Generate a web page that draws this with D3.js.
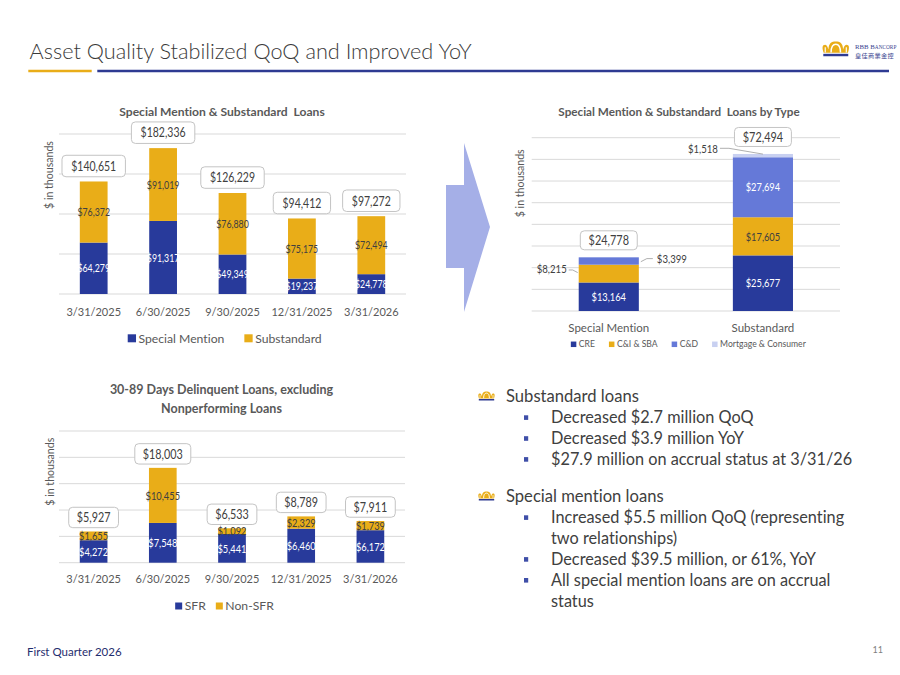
<!DOCTYPE html>
<html>
<head>
<meta charset="utf-8">
<script src="https://cdn.jsdelivr.net/npm/d3@7"></script>
<style>
  html, body { margin: 0; padding: 0; background: #fff; }
  svg { display: block; font-family: Lato, "Noto Sans", sans-serif; }
  svg text { font-variant-ligatures: none; }
</style>
</head>
<body>
<svg width="900" height="675"></svg>
<script>
// quarter-end dates shared by the two left charts
const quarters = ["3/31/2025", "6/30/2025", "9/30/2025", "12/31/2025", "3/31/2026"];

// Special Mention & Substandard Loans ($ in thousands)
const specialMention = [64279, 91317, 49349, 19237, 24778];
const substandard = [76372, 91019, 76880, 75175, 72494];
const loanTicks = [0, 50000, 100000, 150000, 200000];

// Special Mention & Substandard Loans by Type, 3/31/2026
const typeCats = ["Special Mention", "Substandard"];
const cre = [13164, 25677];
const ciSba = [8215, 17605];
const cd = [3399, 27694];
const mortgage = [0, 1518];
const typeTicks = [0, 10000, 20000, 30000, 40000, 50000, 60000, 70000, 80000];

// 30-89 days delinquent loans, excluding nonperforming
const sfr = [4272, 7548, 5441, 6460, 6172];
const nonSfr = [1655, 10455, 1092, 2329, 1739];
const delinqTicks = [0, 5000, 10000, 15000, 20000, 25000];

const navy = "#283a9b", gold = "#e9ad18", periwinkle = "#6579d8", pale = "#c8d0f1";
const textGrey = "#595959", darkText = "#404040";
const fmt = d => "$" + d3.format(",")(d);
const LABEL_SY = 1.27; // data labels in the source use a condensed face

const svg = d3.select("svg");
const g = svg.append("g");

// ---------- header ----------
g.append("text").attr("x", 29.5).attr("y", 59.3)
  .attr("font-size", 21.7).attr("font-weight", 300).attr("fill", "#3a3a3a")
  .text("Asset Quality Stabilized QoQ and Improved YoY");
g.append("line").attr("x1", 28.3).attr("x2", 91.7).attr("y1", 71).attr("y2", 71)
  .attr("stroke", gold).attr("stroke-width", 2.4);
g.append("line").attr("x1", 97.3).attr("x2", 889).attr("y1", 71).attr("y2", 71)
  .attr("stroke", "#2e3a92").attr("stroke-width", 2.4);

function crown(parent, tx, ty, s) {
  const c = parent.append("g").attr("transform", `translate(${tx},${ty}) scale(${s})`);
  c.append("path")
    .attr("d", "M1,7 C0,4 0,2 2,2 C3,2 3.5,3.5 4,5 C4,1 6,0 8.5,0 C11,0 13,1 13,5 C13.5,3.5 14,2 15,2 C17,2 17,4 16,7 Z")
    .attr("fill", gold);
  c.append("path").attr("d", "M5.6,6.8 C5.6,3.2 6.8,1.7 8.5,1.7 C10.2,1.7 11.4,3.2 11.4,6.8")
    .attr("fill", "none").attr("stroke", "#fff").attr("stroke-width", 0.9);
  c.append("path").attr("d", "M2,6.8 L2,3.5 M15,6.8 L15,3.5")
    .attr("fill", "none").attr("stroke", "#fff").attr("stroke-width", 0.7);
  c.append("rect").attr("x", 0.8).attr("y", 7.6).attr("width", 15.4).attr("height", 1.5).attr("fill", "#2e3a92");
}

// logo
crown(g, 822, 41.5, 1.62);
const logoText = g.append("text").attr("x", 855).attr("y", 49.3).attr("fill", "#3b4590")
  .attr("font-family", "Liberation Serif, serif");
logoText.append("tspan").attr("font-size", 6.8).text("RBB B");
logoText.append("tspan").attr("font-size", 5.3).text("ANCORP");
g.append("text").attr("x", 855).attr("y", 58).attr("font-size", 6.2).attr("fill", "#3b4590")
  .attr("font-family", "Noto Sans CJK TC").attr("letter-spacing", 0.3).text("皇佳商業金控");

// stretched label text, mimicking the condensed data-label face
function label(sel, cx, cy) {
  return sel.attr("transform", `translate(${cx},${cy}) scale(1,${LABEL_SY})`).attr("dy", "0.36em");
}

// ---------- stacked bar helper ----------
function stackedBars(cfg) {
  const x = d3.scaleBand().domain(cfg.cats).range([cfg.left, cfg.right])
    .paddingInner(cfg.pi).paddingOuter(cfg.po);
  const y = d3.scaleLinear().domain([0, cfg.max]).range([cfg.base, cfg.top]);
  const c = g.append("g");

  c.append("g").selectAll("line").data(cfg.ticks).join("line")
    .attr("x1", cfg.left).attr("x2", cfg.right)
    .attr("y1", d => y(d)).attr("y2", d => y(d))
    .attr("stroke", "#d9d9d9").attr("stroke-width", 1);

  const layers = d3.stack().keys(d3.range(cfg.series.length))
    .value((i, k) => cfg.series[k].values[i])(d3.range(cfg.cats.length));

  layers.forEach((layer, k) => {
    const s = cfg.series[k];
    c.append("g").selectAll("rect").data(layer).join("rect")
      .attr("x", (d, i) => x(cfg.cats[i]))
      .attr("width", x.bandwidth())
      .attr("y", d => y(d[1]))
      .attr("height", d => y(d[0]) - y(d[1]))
      .attr("fill", s.color);
    const segs = layer.map((d, i) => ({ d, i })).filter(o => s.values[o.i] > 0 &&
      !(cfg.outside || []).some(p => p.k === k && p.i === o.i));
    segs.forEach(o => {
      label(c.append("text"), x(cfg.cats[o.i]) + x.bandwidth() / 2, y((o.d[0] + o.d[1]) / 2))
        .attr("text-anchor", "middle").attr("font-size", cfg.segFont)
        .attr("fill", s.labelColor).text(fmt(s.values[o.i]));
    });
  });

  // total call-out boxes
  const totals = cfg.cats.map((cat, i) => d3.sum(cfg.series, s => s.values[i]));
  totals.forEach((t, i) => {
    const cx = x(cfg.cats[i]) + x.bandwidth() / 2;
    const bottom = y(t) - cfg.boxGap;
    const bg = c.append("g");
    const rect = bg.append("rect");
    const txt = label(bg.append("text"), cx, bottom - cfg.boxH / 2)
      .attr("text-anchor", "middle").attr("font-size", cfg.totalFont)
      .attr("fill", darkText).text(fmt(t));
    const w = txt.node().getComputedTextLength() + 2 * cfg.boxPad;
    rect.attr("x", cx - w / 2).attr("y", bottom - cfg.boxH)
      .attr("width", w).attr("height", cfg.boxH).attr("rx", 4)
      .attr("fill", "#fff").attr("stroke", "#c4c4c4").attr("stroke-width", 1);
  });

  const ax = c.append("g").attr("transform", `translate(0,${cfg.base})`)
    .call(d3.axisBottom(x).tickSize(0).tickPadding(cfg.axisPad));
  ax.select(".domain").remove();
  ax.selectAll("text").attr("font-size", cfg.axisFont).attr("fill", textGrey)
    .attr("font-family", "Lato, sans-serif");

  // y-axis title
  c.append("text").attr("transform", `translate(${cfg.yLabelX},${cfg.yLabelY}) rotate(-90)`)
    .attr("text-anchor", "middle").attr("dy", "0.35em")
    .attr("font-size", 10.6).attr("fill", textGrey).text("$ in thousands");

  return { x, y, layers };
}

function legend(items, cx, cy, o) {
  const lg = g.append("g");
  let pos = 0;
  items.forEach(it => {
    lg.append("rect").attr("x", pos).attr("y", cy - o.sh / 2)
      .attr("width", o.sw).attr("height", o.sh).attr("fill", it.color);
    const t = lg.append("text").attr("x", pos + o.sw + o.tg).attr("y", cy).attr("dy", "0.35em")
      .attr("font-size", o.font).attr("fill", textGrey).text(it.name);
    pos += o.sw + o.tg + t.node().getComputedTextLength() + o.gap;
  });
  const total = pos - o.gap;
  lg.attr("transform", `translate(${cx - total / 2},0)`);
}

function chartTitle(lines, cx, y0, size, lh) {
  lines.forEach((l, i) => g.append("text").attr("x", cx).attr("y", y0 + i * lh)
    .attr("text-anchor", "middle").attr("font-size", size)
    .attr("font-weight", 700).attr("fill", textGrey).style("white-space", "pre").text(l));
}

// ---------- chart 1 ----------
chartTitle(["Special Mention & Substandard  Loans"], 222, 115.8, 12.1, 0);
stackedBars({
  cats: quarters, left: 59, right: 406, base: 294, top: 134, max: 200000,
  ticks: loanTicks, pi: 0.6, po: 0.3,
  series: [
    { values: specialMention, color: navy, labelColor: "#fff" },
    { values: substandard, color: gold, labelColor: darkText }
  ],
  segFont: 8.8, totalFont: 10.5, boxH: 21.5, boxGap: 4.7, boxPad: 9.2,
  axisPad: 13.8, axisFont: 11, yLabelX: 49, yLabelY: 175
});
legend([{ name: "Special Mention", color: navy }, { name: "Substandard", color: gold }],
  224.7, 338.3, { sw: 8.3, sh: 8, tg: 2.5, gap: 20, font: 12.2 });

// ---------- chart 2 ----------
chartTitle(["Special Mention & Substandard  Loans by Type"], 679, 115.8, 11.7, 0);
const typeSeries = [
  { values: cre, color: navy, labelColor: "#fff", name: "CRE" },
  { values: ciSba, color: gold, labelColor: darkText, name: "C&I & SBA" },
  { values: cd, color: periwinkle, labelColor: "#fff", name: "C&D" },
  { values: mortgage, color: pale, labelColor: darkText, name: "Mortgage & Consumer" }
];
const byType = stackedBars({
  cats: typeCats, left: 531.7, right: 840, base: 311, top: 137.7, max: 80000,
  ticks: typeTicks, pi: 0.61, po: 0.305, series: typeSeries,
  outside: [{ k: 1, i: 0 }, { k: 2, i: 0 }, { k: 3, i: 1 }],
  segFont: 9.3, totalFont: 10.9, boxH: 19, boxGap: 7.5, boxPad: 8.3,
  axisPad: 13.3, axisFont: 11.5, yLabelX: 520.7, yLabelY: 183.3
});

// leader-line labels for the thin segments
(function () {
  const { x, y, layers } = byType;
  const mid = (k, i) => y((layers[k][i][0] + layers[k][i][1]) / 2);
  const L = x(typeCats[0]), R = L + x.bandwidth();
  const C = x(typeCats[1]) + x.bandwidth() / 2;
  const specs = [
    { k: 1, i: 0, tx: L - 12, ty: mid(1, 0) - 4.6, anchor: "end",
      line: [[L - 10, mid(1, 0) - 3.6], [L - 6, mid(1, 0) - 3.6], [L - 1, mid(1, 0) - 1]] },
    { k: 2, i: 0, tx: R + 18, ty: mid(2, 0) - 2, anchor: "start",
      line: [[R + 2, mid(2, 0) + 0.7], [R + 8, mid(2, 0) - 2.4], [R + 14, mid(2, 0) - 2.4]] },
    { k: 3, i: 1, tx: C - 45, ty: mid(3, 1) - 7.3, anchor: "end",
      line: [[C - 43, mid(3, 1) - 7.3], [C - 34, mid(3, 1) - 7.3], [C, mid(3, 1) - 1.5]] }
  ];
  specs.forEach(s => {
    g.append("path").attr("d", d3.line()(s.line)).attr("fill", "none")
      .attr("stroke", "#a6a6a6").attr("stroke-width", 0.9);
    label(g.append("text"), s.tx, s.ty)
      .attr("text-anchor", s.anchor).attr("font-size", 9.6).attr("fill", darkText)
      .text(fmt(typeSeries[s.k].values[s.i]));
  });
})();
legend(typeSeries.map(s => ({ name: s.name, color: s.color })),
  688.3, 344.3, { sw: 5.5, sh: 5.5, tg: 2.5, gap: 14, font: 8.6 });

// ---------- arrow ----------
g.append("path")
  .attr("d", "M446,185 L464,185 L464,143 L490,227 L464,312 L464,268 L446,268 Z")
  .attr("fill", "#a5afe7");

// ---------- chart 3 ----------
chartTitle(["30-89 Days Delinquent Loans, excluding", "Nonperforming Loans"], 221.5, 394.4, 12.5, 18.3);
stackedBars({
  cats: quarters, left: 59, right: 405, base: 562.7, top: 431, max: 25000,
  ticks: delinqTicks, pi: 0.6, po: 0.3,
  series: [
    { values: sfr, color: navy, labelColor: "#fff" },
    { values: nonSfr, color: gold, labelColor: darkText }
  ],
  segFont: 9.3, totalFont: 10.8, boxH: 20.4, boxGap: 3.8, boxPad: 8,
  axisPad: 12.4, axisFont: 11, yLabelX: 50.7, yLabelY: 471.7
});
legend([{ name: "SFR", color: navy }, { name: "Non-SFR", color: gold }],
  224.5, 606, { sw: 7, sh: 7, tg: 2.5, gap: 10, font: 12.2 });

// ---------- commentary ----------
const notes = [
  { head: "Substandard loans", y: 396, bullets: [
    ["Decreased $2.7 million QoQ"], ["Decreased $3.9 million YoY"],
    ["$27.9 million on accrual status at 3/31/26"] ] },
  { head: "Special mention loans", y: 496, bullets: [
    ["Increased $5.5 million QoQ (representing", "two relationships)"],
    ["Decreased $39.5 million, or 61%, YoY"],
    ["All special mention loans are on accrual", "status"] ] }
];
const lineH = 20.9;
notes.forEach(n => {
  crown(g, 478, n.y - 4.6, 1);
  g.append("text").attr("x", 506).attr("y", n.y).attr("dy", "0.35em")
    .attr("font-size", 16.6).attr("fill", darkText).text(n.head);
  let yy = n.y + lineH + 0.7;
  n.bullets.forEach(b => {
    g.append("rect").attr("x", 524).attr("y", yy - 2.3).attr("width", 4.2).attr("height", 4.6)
      .attr("fill", "#3f4fa8");
    b.forEach(line => {
      g.append("text").attr("x", 551).attr("y", yy).attr("dy", "0.35em")
        .attr("font-size", 16.3).attr("fill", darkText).text(line);
      yy += lineH;
    });
  });
});

// ---------- footer ----------
g.append("text").attr("x", 27).attr("y", 656).attr("font-size", 11.5)
  .attr("fill", "#1f2d6e").text("First Quarter 2026");
g.append("text").attr("x", 883).attr("y", 653).attr("text-anchor", "end")
  .attr("font-size", 9).attr("fill", "#7f7f7f").text("11");
</script>
</body>
</html>
